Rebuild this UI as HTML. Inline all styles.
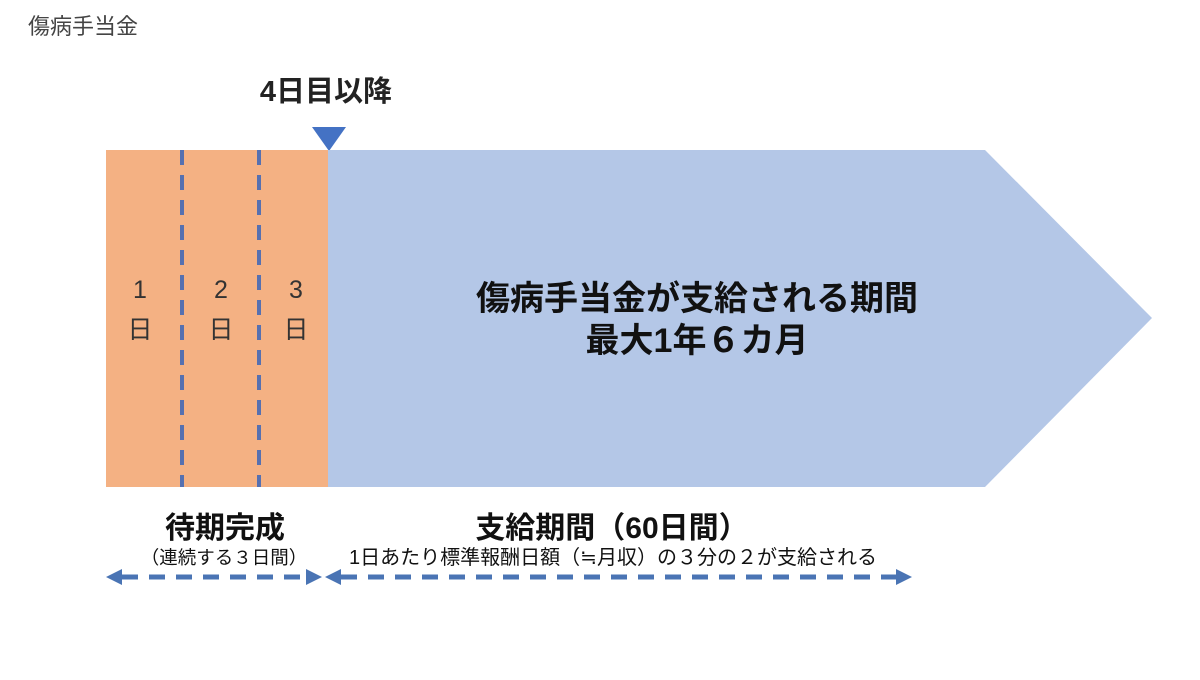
<!DOCTYPE html>
<html><head><meta charset="utf-8"><style>
body{margin:0;width:1200px;height:675px;background:#fff;overflow:hidden;font-family:"Liberation Sans","Noto Sans CJK JP",sans-serif;}
</style></head><body>
<svg width="1200" height="675" xmlns="http://www.w3.org/2000/svg" style="font-family:'Liberation Sans','Noto Sans CJK JP',sans-serif">
<text x="28" y="34" font-size="22" fill="#444">傷病手当金</text>
<text x="326" y="101" font-size="29" font-weight="bold" text-anchor="middle" fill="#222">4日目以降</text>
<polygon points="312,127 346,127 329,151" fill="#4472C4"/>
<rect x="106" y="150" width="222" height="337" fill="#F4B183"/>
<polygon points="328,150 985,150 1152,318 985,487 328,487" fill="#B4C7E7"/>
<line x1="182" y1="150" x2="182" y2="487" stroke="#5670B0" stroke-width="4" stroke-dasharray="15,10"/>
<line x1="259" y1="150" x2="259" y2="487" stroke="#5670B0" stroke-width="4" stroke-dasharray="15,10"/>
<g font-size="25" fill="#333" text-anchor="middle">
<text x="140" y="298">1</text><text x="140" y="338">日</text>
<text x="221" y="298">2</text><text x="221" y="338">日</text>
<text x="296" y="298">3</text><text x="296" y="338">日</text>
</g>
<text x="697" y="310" font-size="34" font-weight="bold" text-anchor="middle" fill="#111">傷病手当金が支給される期間</text>
<text x="697" y="352" font-size="34" font-weight="bold" text-anchor="middle" fill="#111">最大1年６カ月</text>
<text x="225" y="538" font-size="30" font-weight="bold" text-anchor="middle" fill="#111">待期完成</text>
<text x="224" y="564" font-size="18.5" text-anchor="middle" fill="#111">（連続する３日間）</text>
<text x="612" y="538" font-size="30" font-weight="bold" text-anchor="middle" fill="#111">支給期間（60日間）</text>
<text x="613" y="564" font-size="20" text-anchor="middle" fill="#111">1日あたり標準報酬日額（≒月収）の３分の２が支給される</text>
<g fill="#4A74B4">
<polygon points="106,577 122,569 122,585"/>
<polygon points="322,577 306,569 306,585"/>
<polygon points="325,577 341,569 341,585"/>
<polygon points="912,577 896,569 896,585"/>
</g>
<line x1="122" y1="577" x2="306" y2="577" stroke="#4A74B4" stroke-width="5" stroke-dasharray="16,11"/>
<line x1="341" y1="577" x2="896" y2="577" stroke="#4A74B4" stroke-width="5" stroke-dasharray="16,11"/>
</svg>
</body></html>
